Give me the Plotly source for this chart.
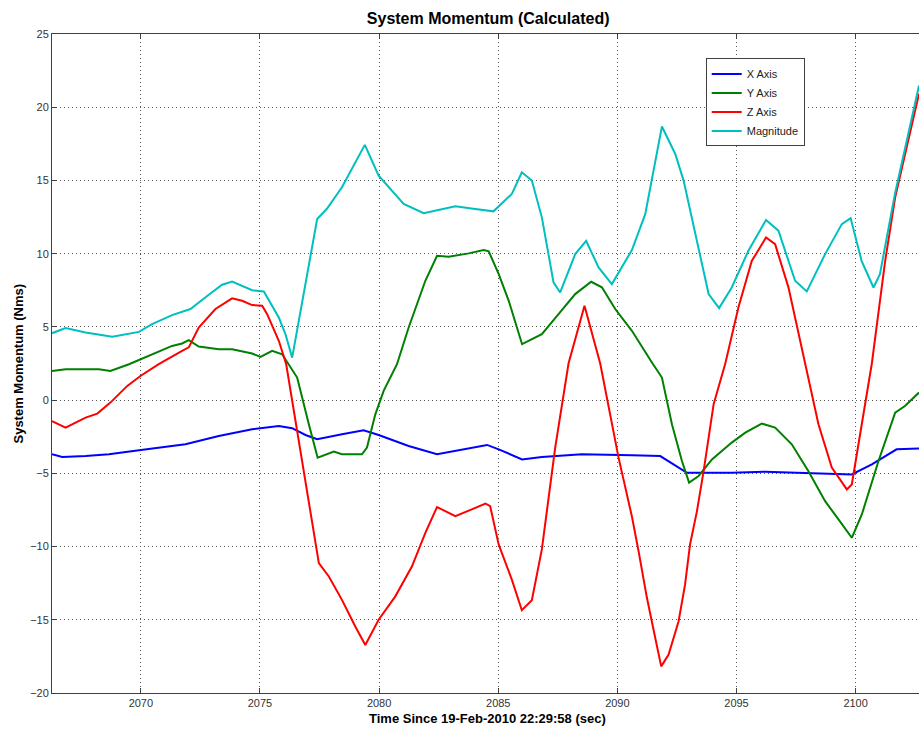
import plotly.graph_objects as go

# ---- data ----
x_axis_t = [2066.27, 2066.7, 2067.68, 2068.66, 2069.92, 2071.87, 2073.27, 2074.67, 2075.79,
            2076.35, 2076.91, 2077.4, 2078.44, 2079.35, 2079.98, 2081.24, 2082.43, 2083.48,
            2084.53, 2085.02, 2086.0, 2086.83, 2088.51, 2090.61, 2091.8, 2092.92, 2094.8,
            2096.2, 2097.88, 2099.84, 2100.68, 2101.72, 2102.66]
x_axis_v = [-3.7, -3.89, -3.82, -3.7, -3.43, -3.02, -2.45, -1.99, -1.77,
            -1.92, -2.38, -2.67, -2.33, -2.06, -2.38, -3.13, -3.7, -3.36,
            -3.06, -3.36, -4.05, -3.89, -3.7, -3.77, -3.82, -4.96, -4.96,
            -4.89, -5.0, -5.08, -4.39, -3.36, -3.3]

y_axis_t = [2066.27, 2066.84, 2068.24, 2068.72, 2069.5, 2070.47, 2071.31, 2071.73, 2072.01,
            2072.43, 2073.27, 2073.83, 2074.67, 2075.02, 2075.51, 2075.93, 2076.21, 2076.56,
            2077.05, 2077.42, 2078.1, 2078.44, 2079.28, 2079.49, 2079.84, 2080.19, 2080.75,
            2081.24, 2081.94, 2082.43, 2082.92, 2083.76, 2084.39, 2084.6, 2085.02, 2085.44,
            2086.0, 2086.83, 2087.53, 2088.23, 2088.9, 2089.35, 2089.91, 2090.61, 2091.45,
            2091.87, 2092.29, 2092.71, 2093.01, 2093.41, 2093.97, 2094.8, 2095.37, 2096.06,
            2096.62, 2097.32, 2098.02, 2098.72, 2099.28, 2099.84, 2100.26, 2100.96, 2101.66,
            2102.07, 2102.66]
y_axis_v = [1.99, 2.1, 2.1, 1.99, 2.45, 3.13, 3.7, 3.87, 4.1,
            3.66, 3.48, 3.48, 3.18, 2.95, 3.36, 3.13, 2.45, 1.54,
            -1.65, -3.93, -3.52, -3.7, -3.7, -3.24, -0.97, 0.63, 2.45,
            4.96, 8.15, 9.86, 9.79, 10.02, 10.25, 10.16, 8.6, 6.78,
            3.82, 4.5, 5.87, 7.24, 8.08, 7.7, 6.22, 4.73, 2.57,
            1.54, -1.65, -4.16, -5.63, -5.18, -4.05, -2.9, -2.22, -1.6,
            -1.88, -3.02, -4.85, -6.9, -8.15, -9.4, -7.81, -4.16, -0.85,
            -0.4, 0.52]

z_axis_t = [2066.27, 2066.84, 2067.68, 2068.17, 2068.72, 2069.43, 2069.98, 2070.75, 2071.73,
            2072.01, 2072.43, 2073.13, 2073.83, 2074.25, 2074.67, 2075.09, 2075.3, 2075.79,
            2076.1, 2077.47, 2077.89, 2078.44, 2079.0, 2079.42, 2079.98, 2080.68, 2081.38,
            2081.94, 2082.43, 2083.2, 2084.04, 2084.46, 2084.66, 2085.02, 2085.57, 2085.99,
            2086.41, 2086.83, 2087.39, 2087.95, 2088.62, 2089.28, 2090.05, 2090.61, 2090.89,
            2091.24, 2091.59, 2091.84, 2092.15, 2092.57, 2092.84, 2093.05, 2093.34, 2093.62,
            2094.04, 2094.53, 2095.08, 2095.64, 2096.24, 2096.62, 2097.18, 2097.88, 2098.44,
            2099.0, 2099.63, 2099.84, 2100.26, 2100.68, 2101.24, 2101.66, 2102.66]
z_axis_v = [-1.43, -1.88, -1.2, -0.92, -0.17, 0.97, 1.65, 2.45, 3.36,
            3.6, 4.96, 6.22, 6.95, 6.78, 6.49, 6.44, 5.87, 4.05,
            2.45, -11.13, -12.04, -13.64, -15.46, -16.72, -15.0, -13.4, -11.35,
            -9.07, -7.3, -7.93, -7.36, -7.06, -7.24, -9.87, -12.26, -14.35,
            -13.67, -10.19, -3.24, 2.5, 6.44, 2.5, -3.93, -7.95, -10.32,
            -13.5, -16.24, -18.18, -17.38, -15.1, -12.6, -9.86, -7.58, -4.85,
            -0.28, 2.5, 6.33, 9.5, 11.1, 10.65, 7.7, 2.5, -1.65,
            -4.61, -6.1, -5.76, -1.65, 2.5, 9.5, 13.85, 20.92]

mag_t = [2066.27, 2066.84, 2067.68, 2068.8, 2069.92, 2070.47, 2071.31, 2072.08, 2072.85,
         2073.41, 2073.83, 2074.67, 2075.16, 2075.79, 2076.07, 2076.35, 2077.4, 2077.8,
         2078.44, 2079.4, 2079.98, 2080.6, 2081.03, 2081.87, 2083.2, 2084.03, 2084.8,
         2085.57, 2085.99, 2086.41, 2086.83, 2087.32, 2087.6, 2088.23, 2088.69, 2089.21,
         2089.77, 2090.61, 2091.17, 2091.87, 2092.43, 2092.78, 2093.13, 2093.83, 2094.27,
         2094.8, 2095.5, 2096.24, 2096.76, 2097.46, 2097.95, 2098.72, 2099.42, 2099.79,
         2100.25, 2100.75, 2101.02, 2101.65, 2102.66]
mag_v = [4.57, 4.92, 4.62, 4.32, 4.66, 5.19, 5.8, 6.22, 7.19,
         7.88, 8.1, 7.5, 7.42, 5.64, 4.5, 2.9, 12.37, 13.05,
         14.53, 17.43, 15.33, 14.19, 13.39, 12.76, 13.24, 13.05, 12.89,
         14.08, 15.56, 14.99, 12.48, 8.04, 7.35, 9.97, 10.88, 9.06,
         7.92, 10.25, 12.7, 18.68, 16.81, 14.99, 12.48, 7.24, 6.28,
         7.69, 10.2, 12.3, 11.57, 8.15, 7.42, 9.97, 12.02, 12.43,
         9.51, 7.69, 8.6, 14.08, 21.48]

series_names = ["X Axis", "Y Axis", "Z Axis", "Magnitude"]
series_colors = ["#0000FF", "#008000", "#FF0000", "#00BFBF"]

x_ticks = [2070, 2075, 2080, 2085, 2090, 2095, 2100]
y_ticks = [-20, -15, -10, -5, 0, 5, 10, 15, 20, 25]
x_range = [2066.27, 2102.66]
y_range = [-20, 25]

title_text = "System Momentum (Calculated)"
x_title = "Time Since 19-Feb-2010 22:29:58 (sec)"
y_title = "System Momentum (Nms)"

# ---- figure ----
FONT = "Liberation Sans, Arial, sans-serif"
fig = go.Figure()
for (t, v), name, col in zip([(x_axis_t, x_axis_v), (y_axis_t, y_axis_v),
                              (z_axis_t, z_axis_v), (mag_t, mag_v)],
                             series_names, series_colors):
    fig.add_trace(go.Scatter(x=t, y=v, mode="lines", name=name,
                             line=dict(color=col, width=2)))

grid = dict(showgrid=True, gridcolor="#555555", gridwidth=1, griddash="1px,3px",
            zeroline=False, showline=True, linecolor="#404040", linewidth=1,
            ticks="inside", ticklen=5, tickcolor="#404040",
            tickfont=dict(family=FONT, size=11, color="#333333"))

fig.update_xaxes(range=x_range, tickvals=x_ticks, mirror="ticks", **grid)
fig.update_yaxes(range=y_range, tickvals=y_ticks, mirror=False, **grid)

fig.update_layout(
    width=919, height=729,
    margin=dict(l=52, r=0, t=34, b=36),
    paper_bgcolor="white", plot_bgcolor="white",
    title=dict(text=title_text, x=0.5312, xanchor="center", y=0.975, yanchor="middle",
               font=dict(family=FONT, size=16, color="black", weight="bold")),
    showlegend=True,
    legend=dict(x=0.754, y=0.963, xanchor="left", yanchor="top",
                bgcolor="white", bordercolor="#404040", borderwidth=1,
                font=dict(family=FONT, size=11, color="#222222"),
                tracegroupgap=0, itemwidth=30),
    annotations=[
        dict(text=x_title, xref="paper", yref="paper", x=0.502, y=-0.0384,
             xanchor="center", yanchor="middle", showarrow=False,
             font=dict(family=FONT, size=13, color="black", weight="bold")),
        dict(text=y_title, xref="paper", yref="paper", x=-0.0392, y=0.5,
             xanchor="center", yanchor="middle", showarrow=False, textangle=-90,
             font=dict(family=FONT, size=13, color="black", weight="bold")),
    ],
)

fig.write_html("out.html")
